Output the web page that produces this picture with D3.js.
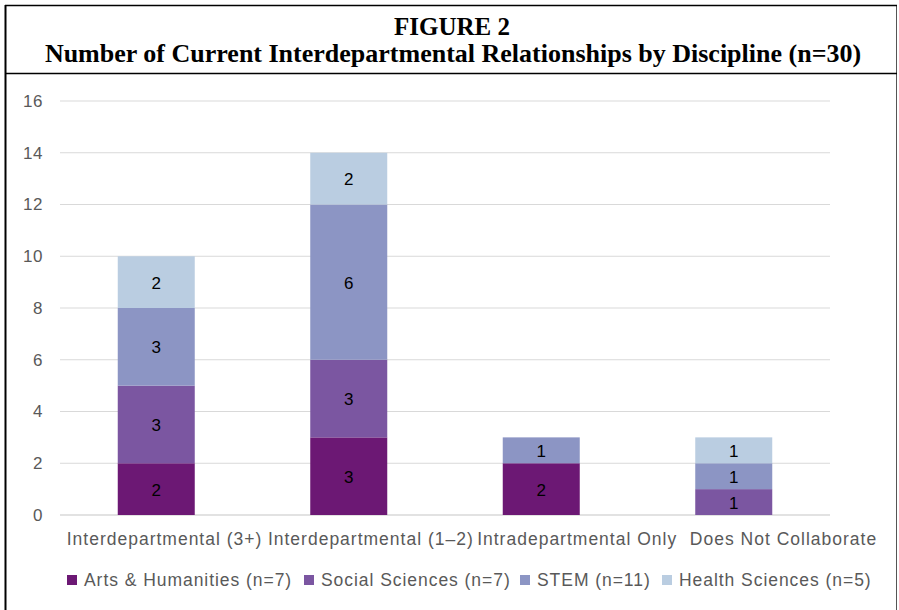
<!DOCTYPE html>
<html>
<head>
<meta charset="utf-8">
<script src="https://cdn.jsdelivr.net/npm/d3@7"></script>
<style>
  body { margin: 0; background: #fff; }
  svg { display: block; }
</style>
</head>
<body>
<svg id="chart" width="899" height="610"></svg>
<script>
const categories = ['Interdepartmental (3+)', 'Interdepartmental (1\u20132)', 'Intradepartmental Only', 'Does Not Collaborate'];
const seriesNames = ['Arts & Humanities (n=7)', 'Social Sciences (n=7)', 'STEM (n=11)', 'Health Sciences (n=5)'];
const artsValues = [2, 3, 2, 0];
const socialValues = [3, 3, 0, 1];
const stemValues = [3, 6, 1, 1];
const healthValues = [2, 2, 0, 1];
const yTicks = [0, 2, 4, 6, 8, 10, 12, 14, 16];

const colors = ['#6c1874', '#7b56a1', '#8c95c4', '#bacde1'];
const labelFont = 'Helvetica, "Liberation Sans", Arial, sans-serif';

const svg = d3.select('#chart');
const plot = { left: 60, right: 830, top: 101, bottom: 515 };

// frame + title
svg.append('line').attr('x1', 5.5).attr('x2', 5.5).attr('y1', 5).attr('y2', 610)
  .style('stroke', '#000').style('stroke-width', 2);
svg.append('line').attr('x1', 896.5).attr('x2', 896.5).attr('y1', 5).attr('y2', 610)
  .style('stroke', '#555').style('stroke-width', 1);
svg.append('line').attr('x1', 5).attr('x2', 897).attr('y1', 5.5).attr('y2', 5.5)
  .style('stroke', '#000').style('stroke-width', 1.5);
svg.append('line').attr('x1', 5).attr('x2', 897).attr('y1', 73.5).attr('y2', 73.5)
  .style('stroke', '#000').style('stroke-width', 1.5);

const title = svg.append('text')
  .attr('text-anchor', 'middle')
  .style('font-family', '"Liberation Serif", "Times New Roman", serif')
  .style('font-weight', 'bold');
title.append('tspan').attr('x', 452).attr('y', 34.5).style('font-size', '25px').text('FIGURE 2');
title.append('tspan').attr('x', 453).attr('y', 62).style('font-size', '26px')
  .text('Number of Current Interdepartmental Relationships by Discipline (n=30)');

const x = d3.scaleBand().domain(categories).range([plot.left, plot.right]).paddingInner(0.6).paddingOuter(0.3);
const y = d3.scaleLinear().domain([0, 16]).range([plot.bottom, plot.top]);
// category labels sit a little wider apart than the bars
const xLabel = d3.scalePoint().domain(categories).range([164, 783]);

// gridlines
svg.append('g')
  .selectAll('line')
  .data(yTicks)
  .enter()
  .append('line')
  .attr('x1', plot.left)
  .attr('x2', plot.right)
  .attr('y1', d => y(d))
  .attr('y2', d => y(d))
  .style('stroke', '#d9d9d9')
  .style('stroke-width', d => d === 0 ? 1.5 : 1.2);

const yAxis = svg.append('g')
  .attr('transform', `translate(${plot.left}, 0)`)
  .call(d3.axisLeft(y).tickValues(yTicks).tickSize(0).tickPadding(17));
yAxis.select('.domain').remove();
yAxis.selectAll('text')
  .style('font-family', labelFont)
  .style('font-size', '17px')
  .style('letter-spacing', '0.6px')
  .style('fill', '#595959');

const xAxis = svg.append('g')
  .attr('transform', `translate(0, ${plot.bottom})`)
  .call(d3.axisBottom(xLabel).tickSize(0).tickPadding(18));
xAxis.select('.domain').remove();
xAxis.selectAll('text')
  .style('font-family', labelFont)
  .style('font-size', '17.5px')
  .style('letter-spacing', '1px')
  .style('fill', '#595959');

const rows = categories.map((c, i) => ({
  cat: c,
  arts: artsValues[i],
  social: socialValues[i],
  stem: stemValues[i],
  health: healthValues[i]
}));
const keys = ['arts', 'social', 'stem', 'health'];
const stacked = d3.stack().keys(keys)(rows);

const layers = svg.append('g')
  .selectAll('g')
  .data(stacked)
  .enter()
  .append('g')
  .style('fill', (d, i) => colors[i]);

layers.selectAll('rect')
  .data(d => d.filter(s => s[1] > s[0]))
  .enter()
  .append('rect')
  .attr('x', d => x(d.data.cat))
  .attr('width', x.bandwidth())
  .attr('y', d => y(d[1]))
  .attr('height', d => y(d[0]) - y(d[1]));

layers.selectAll('text')
  .data(d => d.filter(s => s[1] > s[0]))
  .enter()
  .append('text')
  .attr('x', d => x(d.data.cat) + x.bandwidth() / 2)
  .attr('y', d => (y(d[0]) + y(d[1])) / 2)
  .attr('dy', '0.38em')
  .attr('text-anchor', 'middle')
  .style('fill', '#000')
  .style('font-family', labelFont)
  .style('font-size', '17px')
  .text(d => d[1] - d[0]);

// legend
const legendX = [67, 304, 520, 662];
const legend = svg.append('g')
  .selectAll('g')
  .data(seriesNames)
  .enter()
  .append('g')
  .attr('transform', (d, i) => `translate(${legendX[i]}, 580)`);
legend.append('rect')
  .attr('x', 0)
  .attr('y', -5)
  .attr('width', 10)
  .attr('height', 10)
  .style('fill', (d, i) => colors[i]);
legend.append('text')
  .attr('x', 17)
  .attr('dy', '0.36em')
  .style('font-family', labelFont)
  .style('font-size', '17.5px')
  .style('letter-spacing', '0.95px')
  .style('fill', '#595959')
  .text(d => d);
</script>
</body>
</html>
